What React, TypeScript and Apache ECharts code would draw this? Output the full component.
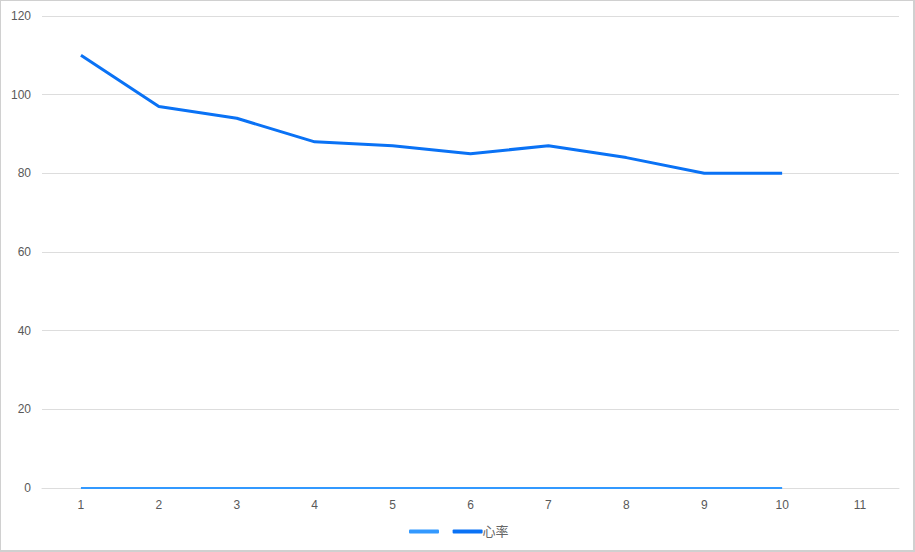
import React, { useEffect, useRef } from "react";
import * as echarts from "echarts";

const categories = ["1", "2", "3", "4", "5", "6", "7", "8", "9", "10", "11"];
const blankSeries = [0, 0, 0, 0, 0, 0, 0, 0, 0, 0];
const heartRate = [110, 97, 94, 88, 87, 85, 87, 84, 80, 80];
const seriesNames = [" ", "心率"];

export default function App() {
  const ref = useRef<HTMLDivElement>(null);
  useEffect(() => {
    document.body.style.margin = "0";
    const chart = echarts.init(ref.current!, null, { renderer: "svg" });
    chart.setOption({
      animation: false,
      textStyle: { fontFamily: "Arial, 'Liberation Sans', 'Noto Sans CJK SC', sans-serif" },
      grid: { left: 41, right: 14, top: 15, bottom: 62, containLabel: false },
      legend: {
        bottom: 7,
        left: 403,
        itemWidth: 30,
        itemHeight: 4,
        itemGap: 10,
        textStyle: { color: "#666", fontSize: 13, padding: [0, 0, 0, -5] },
        icon: "roundRect",
        data: seriesNames,
      },
      xAxis: {
        type: "category",
        data: categories,
        boundaryGap: true,
        axisLine: { show: true, lineStyle: { color: "#ddd" } },
        axisTick: { show: false },
        axisLabel: { color: "#595959", fontSize: 12, margin: 11 },
      },
      yAxis: {
        type: "value",
        min: 0,
        max: 120,
        interval: 20,
        axisLine: { show: false },
        axisTick: { show: false },
        axisLabel: { color: "#595959", fontSize: 12, margin: 11 },
        splitLine: { lineStyle: { color: "#ddd" } },
      },
      series: [
        {
          name: seriesNames[0],
          type: "line",
          data: blankSeries,
          showSymbol: false,
          lineStyle: { color: "#3399ff", width: 2 },
          itemStyle: { color: "#3399ff" },
        },
        {
          name: seriesNames[1],
          type: "line",
          data: heartRate,
          showSymbol: false,
          lineStyle: { color: "#0a72f5", width: 3 },
          itemStyle: { color: "#0a72f5" },
        },
      ],
    });
    return () => chart.dispose();
  }, []);
  return (
    <div
      style={{
        position: "absolute",
        left: 0,
        top: 0,
        width: 915,
        height: 552,
        boxSizing: "border-box",
        border: "1px solid #d0d0d0",
        borderRightWidth: 2,
        borderBottomWidth: 2,
        background: "#fff",
      }}
    >
      <div ref={ref} style={{ width: 912, height: 549 }} />
    </div>
  );
}
